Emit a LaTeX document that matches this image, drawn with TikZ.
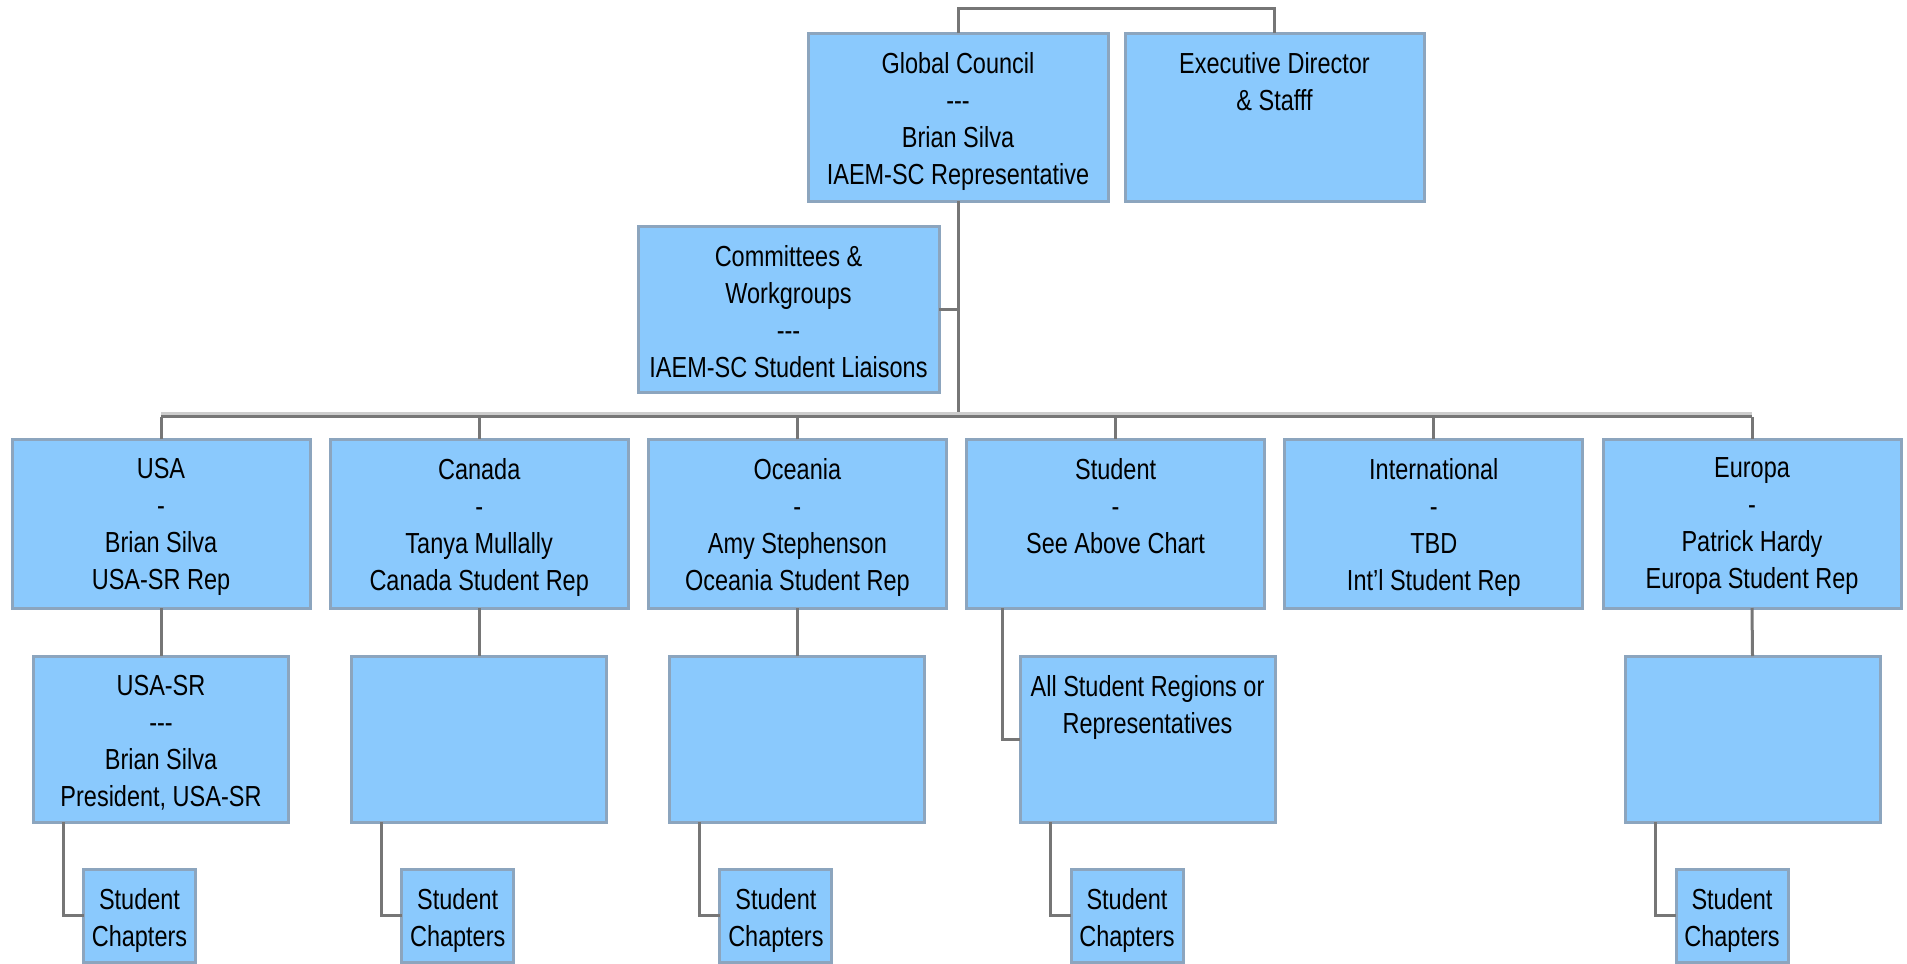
\documentclass[tikz,border=0pt]{standalone}
\usepackage{fontspec}
\setmainfont[FakeStretch=0.81]{Liberation Sans}
\definecolor{boxfill}{RGB}{138,201,253}
\definecolor{boxline}{RGB}{140,165,190}
\definecolor{connline}{RGB}{118,118,118}
\definecolor{buslight}{RGB}{205,205,205}
\tikzset{
  orgbox/.style={draw=boxline, fill=boxfill, line width=3pt, inner sep=0pt, outer sep=0pt, anchor=north west},
  orgtxt/.style={inner sep=0pt, outer sep=0pt, align=center, anchor=north, font=\fontsize{29}{37}\selectfont, text=black},
  conn/.style={draw=connline, line width=3pt},
}
\newcommand\obox[6]{%
  \node[orgbox, minimum width=#4pt, minimum height=#5pt] (#1) at (#2,#3) {};
  \node[orgtxt] (#1t) at ([yshift=-19pt]#1.north) {#6};
}
\begin{document}
\begin{tikzpicture}[x=1pt,y=-1pt]
\useasboundingbox (0,0) rectangle (1907,964);
% top level
\obox{gc}{808}{33}{300}{168}{Global Council\\-{}-{}-\\Brian Silva\\IAEM-SC Representative}
\obox{ex}{1125}{33}{299}{168}{Executive Director\\\& Stafff}
\obox{cw}{638}{226}{301}{166}{Committees \&\\Workgroups\\-{}-{}-\\IAEM-SC Student Liaisons}
% level 2
\obox{usa}{12}{439}{298}{169}{USA\\-\\Brian Silva\\USA-SR Rep}
\obox{can}{330.2}{439}{298}{169}{Canada\\-\\Tanya Mullally\\Canada Student Rep}
\obox{oce}{648.4}{439}{298}{169}{Oceania\\-\\Amy Stephenson\\Oceania Student Rep}
\obox{stu}{966.6}{439}{298}{169}{Student\\-\\See Above Chart}
\obox{int}{1284.8}{439}{298}{169}{International\\-\\TBD\\Int'l Student Rep}
\obox{eur}{1603}{439}{298}{169}{Europa\\-\\Patrick Hardy\\Europa Student Rep}
% level 3
\obox{usasr}{33.5}{656}{255}{166}{USA-SR\\-{}-{}-\\Brian Silva\\President, USA-SR}
\obox{canb}{351.7}{656}{255}{166}{}
\obox{oceb}{669.9}{656}{255}{166}{}
\obox{allst}{1020}{656}{255}{166}{All Student Regions or\\Representatives}
\obox{eurb}{1625}{656}{255}{166}{}
% level 4
\obox{usasc}{83.5}{869}{112}{93.5}{Student\\Chapters}
\obox{cansc}{401.7}{869}{112}{93.5}{Student\\Chapters}
\obox{ocesc}{719.9}{869}{112}{93.5}{Student\\Chapters}
\obox{stusc}{1071}{869}{112}{93.5}{Student\\Chapters}
\obox{eursc}{1676}{869}{112}{93.5}{Student\\Chapters}
% connectors
\coordinate (topmid) at (1118,8);
\coordinate (bus) at (958,416.5);
\draw[conn] (gc.north) |- (topmid) -| (ex.north);
\draw[conn] (gc.south) -- (gc.south |- bus);
\draw[conn] (cw.east) -- (cw.east -| gc.south);
\draw[buslight, line width=3pt] ([yshift=3pt]usa.north |- bus) -- ([yshift=3pt]eur.north |- bus);
\draw[conn] (usa.north |- bus) -- (eur.north |- bus);
\foreach \n in {usa,can,oce,stu,int,eur}{
  \draw[conn] (\n.north) -- (\n.north |- bus);
}
\draw[conn] (usa.south) -- (usasr.north);
\draw[conn] (can.south) -- (canb.north);
\draw[conn] (oce.south) -- (oceb.north);
\draw[conn] (eur.south) -- (eurb.north);
\draw[conn] ([xshift=36pt]stu.south west) |- (allst.west);
\draw[conn] ([xshift=30pt]usasr.south west) |- (usasc.west);
\draw[conn] ([xshift=30pt]canb.south west) |- (cansc.west);
\draw[conn] ([xshift=30pt]oceb.south west) |- (ocesc.west);
\draw[conn] ([xshift=30pt]allst.south west) |- (stusc.west);
\draw[conn] ([xshift=30pt]eurb.south west) |- (eursc.west);
\end{tikzpicture}
\end{document}
